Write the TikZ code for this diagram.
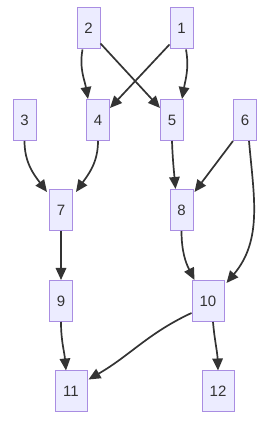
\documentclass[tikz,border=0pt]{standalone}
\usepackage{fontspec}
\setmainfont{Liberation Sans}
\usetikzlibrary{arrows.meta}
\definecolor{boxfill}{HTML}{ECECFF}
\definecolor{boxline}{HTML}{9370DB}
\definecolor{linkcol}{HTML}{333333}
\begin{document}
\begin{tikzpicture}[x=1pt,y=1pt,
  box/.style={draw=boxline!80,fill=boxfill,line width=1pt,minimum width=23pt,minimum height=41pt,
    inner sep=0pt,text=linkcol,font=\fontsize{15}{17}\selectfont},
  widebox/.style={box,minimum width=32pt},
  link/.style={-{Triangle[length=12pt,width=10.5pt]},line width=1.7pt,draw=linkcol}]
\useasboundingbox (0,0) rectangle (268,423);
% top row
\node[box] (n2) at (88.5,394.5) {2};
\node[box] (n1) at (181.5,394.5) {1};
% second row
\node[box] (n3) at (24.5,303) {3};
\node[box] (n4) at (98,303) {4};
\node[box] (n5) at (172,303) {5};
\node[box] (n6) at (245,303) {6};
% middle
\node[box] (n7) at (61,213) {7};
\node[box] (n8) at (181.5,213) {8};
\node[box] (n9) at (61,122) {9};
\node[widebox] (n10) at (208,122) {10};
% bottom row
\node[widebox] (n11) at (71,31.5) {11};
\node[widebox] (n12) at (218,31.5) {12};
% links
\draw[link] ([xshift=-6pt]n2.south) to[out=-100,in=100] ([xshift=-10pt]n4.north);
\draw[link] ([yshift=6pt]n2.south east) -- ([yshift=-9pt]n5.north west);
\draw[link] ([yshift=5pt]n1.south west) -- ([yshift=-9pt]n4.north east);
\draw[link] ([xshift=4.5pt]n1.south) to[out=-80,in=80] ([xshift=10pt]n5.north);
\draw[link] (n3.south) to[out=-90,in=127] ([xshift=-2pt,yshift=-3pt]n7.north west);
\draw[link] (n4.south) to[out=-90,in=55] ([xshift=3pt,yshift=-3pt]n7.north east);
\draw[link] (n5.south) to[out=-88,in=95] ([xshift=-6pt]n8.north);
\draw[link] (n6.south west) -- ([xshift=1pt,yshift=-3pt]n8.north east);
\draw[link] ([xshift=4pt]n6.south) to[out=-85,in=50] ([xshift=2pt,yshift=-3pt]n10.north east);
\draw[link] (n8.south) to[out=-90,in=117] ([xshift=3pt]n10.north west);
\draw[link] (n7) -- (n9);
\draw[link] (n9.south) to[out=-90,in=95] ([xshift=-5pt]n11.north);
\draw[link] ([yshift=9pt]n10.south west) to[out=205,in=30] ([xshift=1pt,yshift=-9pt]n11.north east);
\draw[link] ([xshift=5pt]n10.south) to[out=-85,in=92] (n12.north);
\end{tikzpicture}
\end{document}
